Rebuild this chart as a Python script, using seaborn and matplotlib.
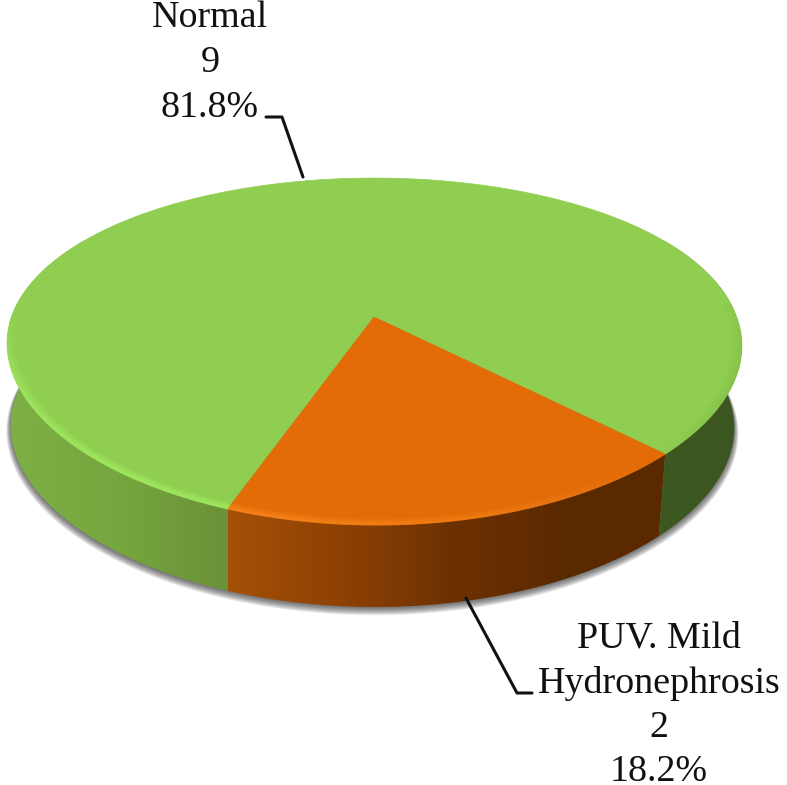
import numpy as np
import pandas as pd
import matplotlib
matplotlib.use("Agg")
import matplotlib.pyplot as plt
from matplotlib.collections import LineCollection
from matplotlib.colors import LinearSegmentedColormap, to_rgb
from matplotlib.patches import Polygon
import seaborn as sns

# ---- data ----
categories = ["Normal", "PUV. Mild\nHydronephrosis"]
counts = [9, 2]
percent_labels = ["81.8%", "18.2%"]

# ---- style ----
sns.set_theme(style="white")
plt.rcParams["font.family"] = ["Liberation Serif", "DejaVu Serif"]
top_colors = sns.color_palette(["#8FCE50", "#E36C09"])
FS = 27.4

fig = plt.figure(figsize=(7.87, 7.85), dpi=100, facecolor="white")
ax = fig.add_axes([0, 0, 1, 1])

CX, CY, A, K, M, MX = 374.0, 317.0, 362.6, 166.6, 0.199, 0.16
DEPTH = 82.0


def project(theta_deg, r=1.0, depth=0.0):
    t = np.radians(theta_deg)
    c, s = r * np.cos(t), -r * np.sin(t)
    d = depth / DEPTH
    x = CX + (1 - 0.015 * d) * A * c / (1 - MX * s) + 3 * np.maximum(s, 0) - 2 * d
    y = CY + K * s / (1 - M * s) + depth
    return x, y


def arc(a0, a1, r=1.0, depth=0.0, n=200):
    x, y = project(np.linspace(a0, a1, n), r, depth)
    return np.column_stack([x, y])


# slice angles derived from the values
total = sum(counts)
orange_sweep = 360.0 * counts[1] / total
orange_end = -45.0
orange_start = orange_end - orange_sweep


def gradient_side(a0, a1, colors):
    pts = np.vstack([arc(a0, a1), arc(a0, a1, depth=DEPTH)[::-1]])
    patch = Polygon(pts, closed=True, transform=ax.transData, fc="none", ec="none")
    ax.add_patch(patch)
    cmap = LinearSegmentedColormap.from_list("side", colors)
    x0, x1 = pts[:, 0].min(), pts[:, 0].max()
    y0, y1 = pts[:, 1].min(), pts[:, 1].max()
    im = ax.imshow(np.linspace(0, 1, 256)[None, :], cmap=cmap, aspect="auto",
                   extent=[x0, x1, y1, y0], zorder=2, interpolation="bilinear")
    im.set_clip_path(patch)


# soft shadow under the disc
for g in np.linspace(0.0, 1.0, 8):
    pts = arc(0, 360, r=1.0 + 0.012 * g, depth=DEPTH + 1 + 4 * g, n=360)
    ax.add_patch(Polygon(pts, closed=True, fc=(0.15, 0.15, 0.15), ec="none", alpha=0.11, zorder=1))

# side walls
gradient_side(150, 360 + orange_start, ["#7DB046", "#76A63F", "#6A9238"])
gradient_side(orange_start, orange_end, ["#A55006", "#8F4204", "#6E3202", "#5C2A00", "#5B2900"])
gradient_side(orange_end, 30, ["#3C5820", "#3C5620"])

# top face
green_arc = arc(orange_end, orange_start + 360, n=400)
orange_arc = arc(orange_start, orange_end, n=200)
ax.add_patch(Polygon(np.vstack([[CX, CY], green_arc]), closed=True,
                     fc=top_colors[0], ec=top_colors[0], lw=0.5, zorder=3))
ax.add_patch(Polygon(np.vstack([[CX, CY], orange_arc]), closed=True,
                     fc=top_colors[1], ec=top_colors[1], lw=0.5, zorder=4))


# bevel on the rim
def bevel(a0, a1, light, dark):
    angs = np.linspace(a0, a1, 400)
    mids = 0.5 * (angs[:-1] + angs[1:])
    tone = np.cos(np.radians(mids - 225))
    front = np.clip((-np.sin(np.radians(mids)) + 0.1) / 0.5, 0, 1)
    rings = np.linspace(0.999, 0.975, 8)
    for i, r in enumerate(rings):
        pts = arc(a0, a1, r=r, n=400)
        segs = np.stack([pts[:-1], pts[1:]], axis=1)
        fade = (1 - i / len(rings)) * front
        cols = np.zeros((len(mids), 4))
        lt, dk = np.array(to_rgb(light)), np.array(to_rgb(dark))
        cols[:, :3] = np.where(tone[:, None] > 0, lt, dk)
        cols[:, 3] = np.clip(np.abs(tone) * fade * 0.6, 0, 1)
        ax.add_collection(LineCollection(segs, colors=cols, linewidths=1.3, zorder=5))


bevel(orange_end, orange_start + 360, "#A6F066", "#78AA44")
bevel(orange_start, orange_end, "#FF8C1E", "#A94E04")

# leader lines
leaders = [
    pd.DataFrame({"x": [266, 282, 303], "y": [117, 117, 177]}),
    pd.DataFrame({"x": [466, 517, 532], "y": [598, 693, 693]}),
]
for d in leaders:
    sns.lineplot(data=d, x="x", y="y", sort=False, estimator=None, color="#111111",
                 lw=2.2, ax=ax, zorder=6)

# labels
label_specs = [
    (210, [27, 72, 117], ["Normal", str(counts[0]), percent_labels[0]]),
    (659, [648, 693, 737, 781],
     categories[1].split("\n") + [str(counts[1]), percent_labels[1]]),
]
for cx, baselines, lines in label_specs:
    for yb, s in zip(baselines, lines):
        ax.text(cx, yb, s, ha="center", va="baseline", fontsize=FS, color="#111111", zorder=7)

ax.set_xlim(0, 787)
ax.set_ylim(785, 0)
ax.axis("off")
fig.savefig("out.png", dpi=100, facecolor="white")
